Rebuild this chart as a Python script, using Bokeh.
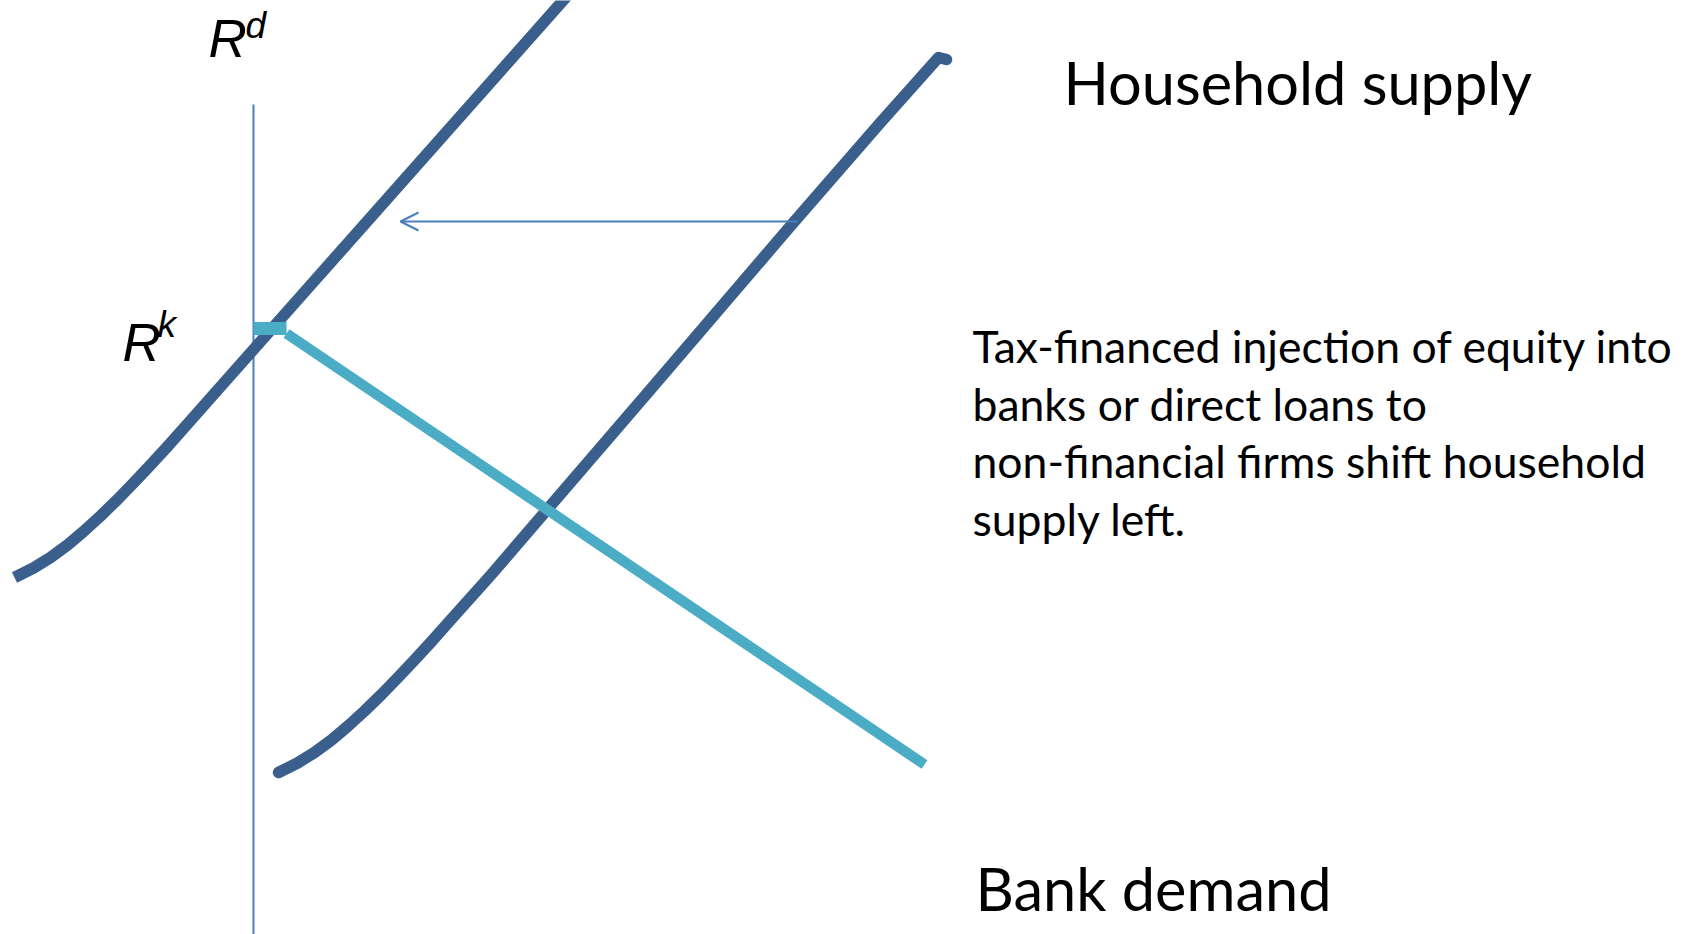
from bokeh.plotting import figure
from bokeh.models import Range1d, Arrow, OpenHead, ColumnDataSource
from bokeh.core.properties import value
from bokeh.embed import file_html
from bokeh.resources import INLINE

# ---- diagram data (diagram coordinates: x to the right, y downward) ----
# household supply after the policy (shifted left)
left_supply_x = [14, 33, 50, 67, 83, 100, 117, 133, 150, 167, 187, 210, 253, 300, 567]
left_supply_y = [577, 567.5, 557, 544.5, 531, 515.5, 499, 482.5, 464.5, 446, 423.5, 397.5, 349, 296, -5]

# household supply before the shift
right_supply_x = [278, 297, 314, 331, 347, 364, 381, 397, 414, 431, 451, 490, 545, 650, 793, 880, 938, 946]
right_supply_y = [772, 762.5, 752, 739.5, 726, 710.5, 694, 677.5, 659.5, 641, 618.5, 575, 511, 389, 222, 122, 57, 59]

# bank demand line
demand_x = [286, 924]
demand_y = [333, 764]

# R^k marker (short horizontal stub from the axis)
rk_marker_x = [253, 286]
rk_marker_y = [328, 328]

# vertical axis
axis_x = [253, 253]
axis_y = [104, 950]

# shift arrow (from, to)
arrow_x = [797, 400]
arrow_y = [221, 221]

# labels
big_labels = ["Household supply", "Bank demand"]
big_label_x = [1063, 975]
big_label_y = [81, 887]

para_lines = [
    "Tax-financed injection of equity into",
    "banks or direct loans to",
    "non-financial firms shift household",
    "supply left.",
]
para_x = [972, 972, 972, 972]
para_y = [345, 402.5, 460, 517.5]

r_labels = ["R", "R"]
r_x = [208, 122]
r_y = [38, 342]
sup_labels = ["d", "k"]
sup_x = [245, 157]
sup_y = [25, 324]

DARK = "#3A5F8D"
TEAL = "#4BACC6"
AXIS = "#4A7EBB"

p = figure(width=1691, height=934, output_backend="svg", toolbar_location=None,
           x_range=Range1d(0, 1691), y_range=Range1d(934, 0), min_border=0)
p.axis.visible = False
p.grid.visible = False
p.outline_line_color = None
p.background_fill_color = "white"
p.border_fill_color = "white"

p.line(axis_x, axis_y, line_color=AXIS, line_width=2)

p.line(left_supply_x, left_supply_y, line_color=DARK, line_width=11.5,
       line_join="round", line_cap="butt")
p.line(right_supply_x, right_supply_y, line_color=DARK, line_width=11.5,
       line_join="round", line_cap="round")

p.line(rk_marker_x, rk_marker_y, line_color=TEAL, line_width=13, line_cap="butt")
p.line(demand_x, demand_y, line_color=TEAL, line_width=10.5, line_cap="butt")

p.add_layout(Arrow(end=OpenHead(size=18, line_color=AXIS, line_width=2),
                   x_start=arrow_x[0], y_start=arrow_y[0],
                   x_end=arrow_x[1], y_end=arrow_y[1],
                   line_color=AXIS, line_width=2))

big_src = ColumnDataSource(dict(x=big_label_x, y=big_label_y, t=big_labels))
p.text("x", "y", text="t", source=big_src, text_font=value("Lato"),
       text_font_size="59.5px", text_color="black",
       text_align="left", text_baseline="alphabetic")

para_src = ColumnDataSource(dict(x=para_x, y=para_y, t=para_lines))
p.text("x", "y", text="t", source=para_src, text_font=value("Lato"),
       text_font_size="44.5px", text_color="black",
       text_align="left", text_baseline="alphabetic")

r_src = ColumnDataSource(dict(x=r_x, y=r_y, t=r_labels))
p.text("x", "y", text="t", source=r_src, text_font=value("Liberation Sans"),
       text_font_style="italic", text_font_size="53px", text_color="black",
       text_align="left", text_baseline="alphabetic")

sup_src = ColumnDataSource(dict(x=sup_x, y=sup_y, t=sup_labels))
p.text("x", "y", text="t", source=sup_src, text_font=value("Liberation Sans"),
       text_font_style="italic", text_font_size="37px", text_color="black",
       text_align="left", text_baseline="alphabetic")

open("out.html", "w").write(file_html(p, INLINE))
